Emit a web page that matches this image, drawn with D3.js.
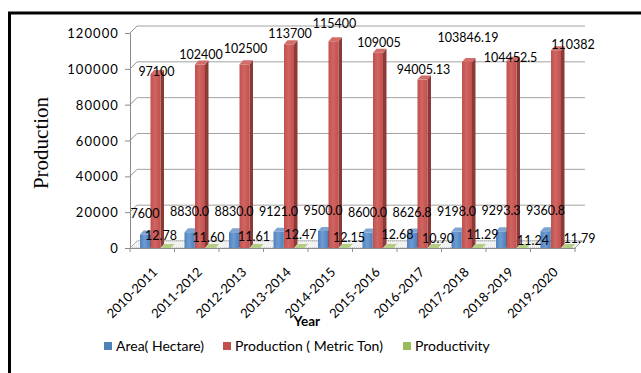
<!DOCTYPE html>
<html>
<head>
<meta charset="utf-8">
<script src="https://cdn.jsdelivr.net/npm/d3@7/dist/d3.min.js"></script>
<style>
  html, body { margin: 0; padding: 0; background: #fff; }
  svg { display: block; }
  text { font-family: Lato, "Open Sans", sans-serif; fill: #000; }
</style>
</head>
<body>
<svg id="chart" width="641" height="373"></svg>
<script>
// ---- data ----
const years = ["2010-2011", "2011-2012", "2012-2013", "2013-2014", "2014-2015",
               "2015-2016", "2016-2017", "2017-2018", "2018-2019", "2019-2020"];
const area = [7600, 8830, 8830, 9121, 9500, 8600, 8626.8, 9198, 9293.3, 9360.8];
const areaLabels = ["7600", "8830.0", "8830.0", "9121.0", "9500.0", "8600.0", "8626.8", "9198.0", "9293.3", "9360.8"];
const production = [97100, 102400, 102500, 113700, 115400, 109005, 94005.13, 103846.19, 104452.5, 110382];
const productivity = [12.78, 11.60, 11.61, 12.47, 12.15, 12.68, 10.90, 11.29, 11.24, 11.79];
const yTicks = [0, 20000, 40000, 60000, 80000, 100000, 120000];
const seriesNames = ["Area( Hectare)", "Production ( Metric Ton)", "Productivity"];

// label nudges so neighbouring value labels don't collide
const prodNudge = [[0, 7], [0, 0], [0, -6], [0, -1], [0, -8], [0, 0], [0, 0], [0, -14], [-2, 7], [16, 4]];
const pdtNudge = [[-6, -1], [-3, 1], [-2, 0], [0, -2], [4, 1], [8, -2], [4, 2], [4, -2], [10, 4], [12, 2]];

// ---- layout ----
const svg = d3.select("#chart");
const x0 = 130, x1 = 575, yBase = 248, yTop = 33;
const depth = { dx: 7, dy: -7 };       // back wall offset
const barDepth = { dx: 3.5, dy: -4 };  // bar side / top face offset

const x = d3.scaleBand().domain(years).range([x0, x1]).padding(0);
const xs = d3.scaleBand().domain(seriesNames).range([10, 41.5]).padding(0);
const y = d3.scaleLinear().domain([0, 120000]).range([yBase, yTop]);

const colors = [
  { front: "#4f81bd", light: "#6f9bd2", side: "#385e8c", top: "#7ea4d4" },
  { front: "#c0504d", light: "#d06562", side: "#8c3a38", top: "#cf6e6b" },
  { front: "#9bbb59", light: "#aecb74", side: "#71893f", top: "#b4cd83" }
];

const defs = svg.append("defs");
colors.forEach((c, i) => {
  const g = defs.append("linearGradient").attr("id", "grad" + i)
    .attr("x1", 0).attr("x2", 1).attr("y1", 0).attr("y2", 0);
  g.append("stop").attr("offset", "0%").attr("stop-color", c.front);
  g.append("stop").attr("offset", "45%").attr("stop-color", c.light);
  g.append("stop").attr("offset", "100%").attr("stop-color", c.front);
});

// outer frame
svg.append("path")
  .attr("d", "M9.5,380 L9.5,13 L650,13")
  .attr("fill", "none").attr("stroke", "#000").attr("stroke-width", 3);

// back wall gridlines
const grid = svg.append("g");
yTicks.forEach(t => {
  grid.append("line")
    .attr("x1", x0 + depth.dx).attr("x2", x1 + depth.dx + 3)
    .attr("y1", y(t) + depth.dy).attr("y2", y(t) + depth.dy)
    .attr("stroke", "#a3a3a3").attr("stroke-width", 1);
  grid.append("line")
    .attr("x1", x0).attr("x2", x0 + depth.dx)
    .attr("y1", y(t)).attr("y2", y(t) + depth.dy)
    .attr("stroke", "#8c8c8c").attr("stroke-width", 1);
});

// floor
svg.append("polygon")
  .attr("points", [[x0, yBase], [x1, yBase], [x1 + depth.dx, yBase + depth.dy], [x0 + depth.dx, yBase + depth.dy]].join(" "))
  .attr("fill", "#f1f1f1").attr("stroke", "#a0a0a0").attr("stroke-width", 1)
  .attr("stroke-dasharray", "1,1");

// y axis
const yAxis = d3.axisLeft(y).tickValues(yTicks).tickSize(5).tickPadding(6).tickFormat(d3.format("d"));
const yg = svg.append("g").attr("transform", `translate(${x0},0)`).call(yAxis);
yg.select(".domain").attr("stroke", "#8c8c8c");
yg.selectAll(".tick line").attr("stroke", "#8c8c8c");
yg.selectAll(".tick text")
  .style("font-family", "Lato, sans-serif").style("font-size", "13px")
  .style("letter-spacing", "1.1px").attr("dy", "0.35em");

// x axis
const xAxis = d3.axisBottom(x).tickSize(0).tickFormat("");
const xg = svg.append("g").attr("transform", `translate(0,${yBase})`).call(xAxis);
xg.select(".domain").attr("stroke", "#8c8c8c");
const bounds = years.map(d => x(d)).concat([x1]);
xg.selectAll(".bound").data(bounds).enter().append("line")
  .attr("x1", d => d).attr("x2", d => d).attr("y1", 0).attr("y2", 4)
  .attr("stroke", "#8c8c8c");
svg.append("line")
  .attr("x1", x1).attr("y1", yBase).attr("x2", x1 + depth.dx).attr("y2", yBase + depth.dy)
  .attr("stroke", "#a0a0a0");

// category labels
svg.append("g").selectAll("text").data(years).enter().append("text")
  .attr("transform", d => `translate(${x(d) + x.bandwidth() / 2 + 6},${yBase + 25}) rotate(-45)`)
  .attr("text-anchor", "end")
  .style("font-size", "13px")
  .text(d => d);

// 3D bars
function drawBars(values, si) {
  const c = colors[si];
  const g = svg.append("g");
  const w = xs.bandwidth() - 0.5;
  values.forEach((v, i) => {
    const bx = x(years[i]) + xs(seriesNames[si]);
    const by = y(v);
    const h = yBase - by;
    const dx = barDepth.dx, dy = barDepth.dy;
    // side face
    g.append("polygon")
      .attr("points", [[bx + w, by], [bx + w + dx, by + dy], [bx + w + dx, yBase + dy], [bx + w, yBase]].join(" "))
      .attr("fill", c.side);
    // front face
    g.append("rect")
      .attr("x", bx).attr("y", by).attr("width", w).attr("height", Math.max(h, 0))
      .attr("fill", `url(#grad${si})`);
    // top face
    g.append("polygon")
      .attr("points", [[bx, by], [bx + dx, by + dy], [bx + w + dx, by + dy], [bx + w, by]].join(" "))
      .attr("fill", c.top);
  });
}
drawBars(area, 0);
drawBars(production, 1);
drawBars(productivity, 2);

// value labels
const lbl = svg.append("g").style("font-size", "12.5px");
area.forEach((v, i) => {
  lbl.append("text")
    .attr("x", x(years[i]) + xs(seriesNames[0]) + 5)
    .attr("y", y(v) - 16)
    .attr("text-anchor", "middle")
    .text(areaLabels[i]);
});
production.forEach((v, i) => {
  lbl.append("text")
    .attr("x", x(years[i]) + xs(seriesNames[1]) + 6 + prodNudge[i][0])
    .attr("y", y(v) - 10 + 4.5 + prodNudge[i][1])
    .attr("text-anchor", "middle")
    .text(String(v));
});
productivity.forEach((v, i) => {
  lbl.append("text")
    .attr("x", x(years[i]) + xs(seriesNames[2]) + 6 + pdtNudge[i][0])
    .attr("y", y(v) - 11 + 4.5 + pdtNudge[i][1])
    .attr("text-anchor", "middle")
    .text(d3.format(".2f")(v));
});

// axis titles
svg.append("text")
  .attr("transform", "translate(48,143) rotate(-90)")
  .attr("text-anchor", "middle")
  .style("font-family", "'Liberation Serif', 'Times New Roman', serif")
  .style("font-size", "21px")
  .text("Production");

svg.append("text")
  .attr("x", 307).attr("y", 326)
  .attr("text-anchor", "middle")
  .style("font-size", "13.5px").style("font-weight", "bold")
  .text("Year");

// legend
const legendX = [104, 223, 403];
const lg = svg.append("g");
seriesNames.forEach((n, i) => {
  lg.append("rect").attr("x", legendX[i]).attr("y", 342).attr("width", 8).attr("height", 8)
    .attr("fill", colors[i].front);
  lg.append("text").attr("x", legendX[i] + 12).attr("y", 351)
    .style("font-size", "14px").text(n);
});
</script>
</body>
</html>
